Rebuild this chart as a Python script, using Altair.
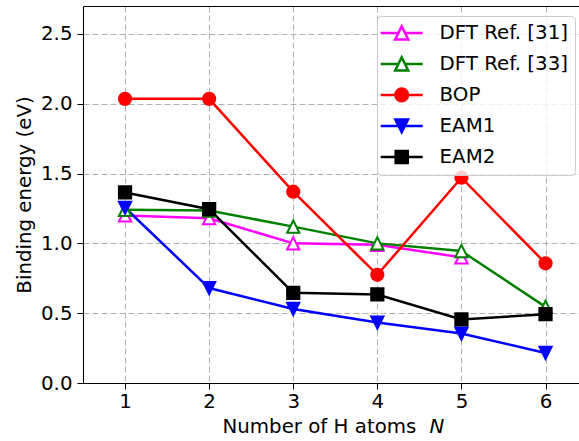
import altair as alt
import pandas as pd

# ---- data ----
n_values = [1, 2, 3, 4, 5, 6]
series_names = ["DFT Ref. [31]", "DFT Ref. [33]", "BOP", "EAM1", "EAM2"]
dft31 = [1.20, 1.18, 1.00, 0.99, 0.90]
dft33 = [1.24, 1.235, 1.12, 1.00, 0.945, 0.545]
bop = [2.035, 2.035, 1.37, 0.775, 1.47, 0.857]
eam1 = [1.255, 0.68, 0.53, 0.433, 0.354, 0.215]
eam2 = [1.365, 1.245, 0.646, 0.634, 0.455, 0.493]
series_values = [dft31, dft33, bop, eam1, eam2]
x_ticks = [1, 2, 3, 4, 5, 6]
y_ticks = [0.0, 0.5, 1.0, 1.5, 2.0, 2.5]

# ---- styles ----
line_colors = ["#ff00ff", "#008000", "#ff0000", "#0000ff", "#000000"]
marker_fills = ["#ffffff", "#ffffff", "#ff0000", "#0000ff", "#000000"]
marker_edges = [2.0, 2.0, 1.4, 1.4, 1.4]
TRI_UP = "M0,-1L-1,1L1,1Z"
TRI_DOWN = "M0,1L-1,-1L1,-1Z"
plot_shapes = [TRI_UP, TRI_UP, "circle", TRI_DOWN, "square"]
LEG_TRI_UP = "M-3,0L-0.465,0M0.465,0L3,0M0,-0.93L-0.93,0.93L0.93,0.93Z"
LEG_CIRCLE = "M-3,0L3,0M0.9,0A0.9,0.9,0,1,1,-0.9,0A0.9,0.9,0,1,1,0.9,0Z"
LEG_TRI_DOWN = "M-3,0L3,0M0,0.9L-0.9,-0.9L0.9,-0.9Z"
LEG_SQUARE = "M-3,0L3,0M-0.86,-0.86L0.86,-0.86L0.86,0.86L-0.86,0.86Z"
legend_shapes = [LEG_TRI_UP, LEG_TRI_UP, LEG_CIRCLE, LEG_TRI_DOWN, LEG_SQUARE]

FONT = "DejaVu Sans"
FS = 19.8

rows = []
for name, vals in zip(series_names, series_values):
    for n, v in zip(n_values, vals):
        rows.append({"series": name, "n": n, "energy": v})
df = pd.DataFrame(rows)

xscale = alt.Scale(domain=[0.5, 6.398], nice=False, zero=False)
yscale = alt.Scale(domain=[0, 2.7], nice=False, zero=False)

grid_kw = dict(grid=True, gridDash=[6, 3], gridColor="#b0b0b0", gridWidth=1)

x_main = alt.X(
    "n:Q", scale=xscale,
    axis=alt.Axis(values=x_ticks, format="d", title="Number of H atoms",
                  titleAlign="left", titleX=139, titleY=49.7, titleBaseline="alphabetic",
                  titleFont=FONT, titleFontSize=FS, titleFontWeight="normal", titleColor="black",
                  labelFont=FONT, labelFontSize=FS, labelColor="black", labelPadding=2,
                  tickSize=6, tickColor="black", tickWidth=1,
                  domainColor="black", domainWidth=1.1, **grid_kw),
)
y_main = alt.Y(
    "energy:Q", scale=yscale,
    axis=alt.Axis(values=y_ticks, format=".1f", title="Binding energy (eV)",
                  titleX=-53, titleY=188.5, titleAngle=270, titleAlign="center",
                  titleBaseline="alphabetic",
                  titleFont=FONT, titleFontSize=FS, titleFontWeight="normal", titleColor="black",
                  labelFont=FONT, labelFontSize=FS, labelColor="black", labelPadding=5,
                  tickSize=6, tickColor="black", tickWidth=1,
                  domainColor="black", domainWidth=1.1, **grid_kw),
)

lines = alt.Chart(df).mark_line(strokeWidth=2.5).encode(
    x=x_main,
    y=y_main,
    stroke=alt.Stroke("series:N", scale=alt.Scale(domain=series_names, range=line_colors), legend=None),
    order="n:Q",
)

points = alt.Chart(df).mark_point(opacity=1, fillOpacity=1, strokeOpacity=1, size=150).encode(
    x=alt.X("n:Q", scale=xscale,
            axis=alt.Axis(orient="top", labels=False, ticks=False, grid=False, title=None,
                          domain=True, domainColor="black", domainWidth=1.1)),
    y=alt.Y("energy:Q", scale=yscale, axis=None),
    stroke=alt.Stroke("series:N", scale=alt.Scale(domain=series_names, range=line_colors), legend=None),
    fill=alt.Fill("series:N", scale=alt.Scale(domain=series_names, range=marker_fills), legend=None),
    shape=alt.Shape("series:N", scale=alt.Scale(domain=series_names, range=plot_shapes), legend=None),
    strokeWidth=alt.StrokeWidth("series:N", scale=alt.Scale(domain=series_names, range=marker_edges), legend=None),
)

leg = dict(title=None, orient="none", legendX=294, legendY=10,
           symbolSize=196, symbolStrokeWidth=2.5, symbolOffset=7.8,
           labelFont=FONT, labelFontSize=FS, labelColor="black", labelOffset=28, labelLimit=400,
           padding=7, rowPadding=7, fillColor="rgba(255,255,255,0.8)",
           strokeColor="#cccccc", cornerRadius=4)

legend_layer = alt.Chart(df).transform_filter("datum.n > 99").mark_point(
    opacity=1, fillOpacity=1, strokeOpacity=1, strokeWidth=2.5
).encode(
    x=alt.X("n:Q", scale=xscale,
            axis=alt.Axis(orient="bottom", labels=False, ticks=False, grid=False, domain=False,
                          title="N", titleFontStyle="italic", titleFont=FONT, titleFontSize=FS,
                          titleFontWeight="normal", titleColor="black",
                          titleX=346, titleY=49.7, titleAlign="left", titleBaseline="alphabetic")),
    y=alt.Y("energy:Q", scale=yscale, axis=None),
    fill=alt.Fill("series:N", scale=alt.Scale(domain=series_names, range=marker_fills), legend=alt.Legend(**leg)),
    stroke=alt.Stroke("series:N", scale=alt.Scale(domain=series_names, range=line_colors), legend=alt.Legend(**leg)),
    shape=alt.Shape("series:N", scale=alt.Scale(domain=series_names, range=legend_shapes), legend=alt.Legend(**leg)),
)

chart = alt.layer(lines, points, legend_layer).resolve_scale(
    stroke="independent", fill="independent", shape="independent", strokeWidth="independent"
).resolve_axis(x="independent", y="independent").properties(
    width=496, height=377,
    autosize=alt.AutoSizeParams(type="none"),
    padding={"left": 83, "top": 6, "right": 0, "bottom": 58},
).configure(font=FONT).configure_view(stroke=None)

chart.save("out.html", embed_options={"renderer": "svg", "actions": False})
